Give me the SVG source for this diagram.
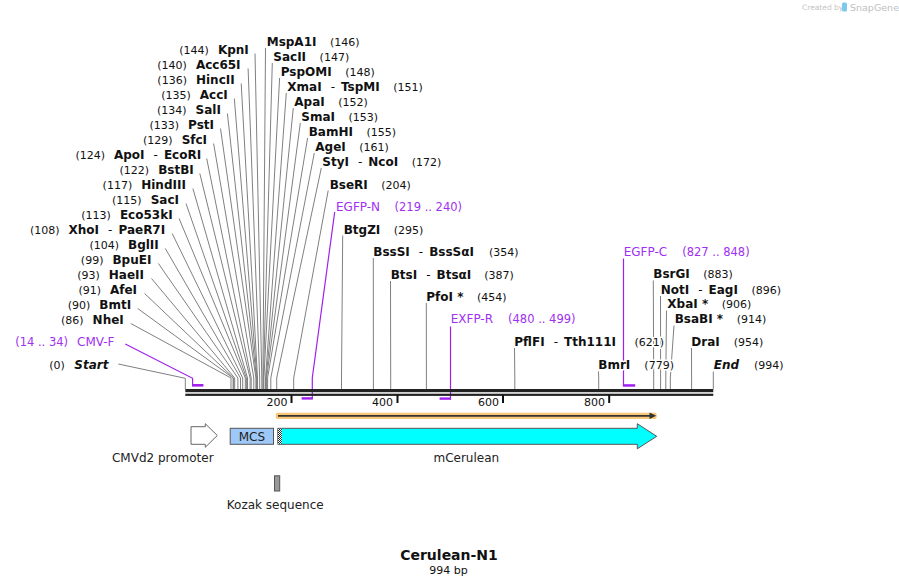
<svg xmlns="http://www.w3.org/2000/svg" width="899" height="586" viewBox="0 0 899 586">
<defs>
<style>
text{font-family:"DejaVu Sans",Verdana,sans-serif;fill:#111}
.lbl{paint-order:stroke;stroke:#fff;stroke-width:3px;stroke-linejoin:round}
.en{font-weight:bold;font-size:12px}
.pos{font-size:11px}
.dash{font-size:12px}
.it{font-weight:bold;font-style:italic;font-size:12px}
.pr{fill:#a030f0;font-size:12px}
.prp{fill:#a030f0;font-size:11.5px}
.cut{fill:none;stroke:#808080;stroke-width:1}
.pl{fill:none;stroke:#a020f0;stroke-width:1.2}
.pb{fill:#a020f0}
.tick{fill:#111}
.tl{font-size:11px}
.fl{font-size:12px;fill:#222}
</style>
<pattern id="hatch" width="2" height="2" patternUnits="userSpaceOnUse">
<rect width="2" height="2" fill="#fff"/>
<rect width="1" height="1" fill="#222"/>
<rect x="1" y="1" width="1" height="1" fill="#222"/>
</pattern>
</defs>
<rect width="899" height="586" fill="#fff"/>

<g id="watermark">
<text x="802" y="10" style="font-size:7.5px;fill:#c4c4c4">Created by</text>
<rect x="842" y="2.5" width="5" height="9" rx="1.5" fill="#7ec8ec"/>
<text x="850" y="10.5" style="font-size:9.5px;fill:#c0c0c0">SnapGene</text>
</g>

<g id="connectors">
<path class="cut" d="M255 53.5L261.8 378V389"/>
<path class="cut" d="M248.1 68.5L259.7 378V389"/>
<path class="cut" d="M241.2 83.5L257.5 378V389"/>
<path class="cut" d="M234.3 98.5L257 378V389"/>
<path class="cut" d="M227.4 113.5L256.5 378V389"/>
<path class="cut" d="M220.5 128.5L255.9 378V389"/>
<path class="cut" d="M213.6 143.5L253.8 378V389"/>
<path class="cut" d="M206.7 158.5L251.2 378V389"/>
<path class="cut" d="M199.8 173.5L250.1 378V389"/>
<path class="cut" d="M192.9 188.5L247.5 378V389"/>
<path class="cut" d="M186 203.5L246.4 378V389"/>
<path class="cut" d="M179.1 218.5L245.3 378V389"/>
<path class="cut" d="M172.2 233.5L242.7 378V389"/>
<path class="cut" d="M165.3 248.5L240.5 378V389"/>
<path class="cut" d="M158.4 263.5L237.9 378V389"/>
<path class="cut" d="M151.5 278.5L234.7 378V389"/>
<path class="cut" d="M144.6 293.5L233.6 378V389"/>
<path class="cut" d="M137.7 308.5L233.1 378V389"/>
<path class="cut" d="M130.8 323.5L231 378V389"/>
<path class="cut" d="M118.3 364L185.3 378.3V389"/>
<path class="cut" d="M265.5 48L262.9 378V389"/>
<path class="cut" d="M272.3 63L263.4 378V389"/>
<path class="cut" d="M279.6 78L263.9 378V389"/>
<path class="cut" d="M286.3 93L265.5 378V389"/>
<path class="cut" d="M293.3 108L266 378V389"/>
<path class="cut" d="M300.3 123L266.6 378V389"/>
<path class="cut" d="M307.6 138L267.6 378V389"/>
<path class="cut" d="M314.3 153L270.8 378V389"/>
<path class="cut" d="M321.3 168L276.7 378V389"/>
<path class="cut" d="M328.2 190.5L293.7 378V389"/>
<path class="cut" d="M342.7 235.5L341.5 378V389"/>
<path class="cut" d="M373.3 258L373.4 378V389"/>
<path class="cut" d="M390.5 281L390.7 378V389"/>
<path class="cut" d="M426.3 303L426.4 378V389"/>
<path class="cut" d="M514.5 348L514.8 378V389"/>
<path class="cut" d="M598.5 371.5L598.7 378V389"/>
<path class="cut" d="M653.3 280.5L653.7 378V389"/>
<path class="cut" d="M660.5 296L660.6 378V389"/>
<path class="cut" d="M666.5 310.5L665.8 378V389"/>
<path class="cut" d="M674 325.5L670.3 378V389"/>
<path class="cut" d="M691.5 348L691.6 378V389"/>
<path class="cut" d="M713.3 371.5V389"/>
<path class="pl" d="M125.3 344L192.6 378.3V385"/>
<rect class="pb" x="192" y="384" width="11.4" height="2.6"/>
<path class="pl" d="M334.7 212L312.3 377.7V398.5"/>
<rect class="pb" x="301.6" y="397.2" width="11.3" height="2.4"/>
<path class="pl" d="M450.5 326.5V399.5"/>
<rect class="pb" x="439.6" y="397.4" width="11.4" height="2.4"/>
<path class="pl" d="M623.5 258.5V386"/>
<rect class="pb" x="622.9" y="384.2" width="12.3" height="2.5"/>
</g>

<g id="track">
<rect x="185.3" y="389" width="528" height="3.2" fill="#222"/>
<rect x="185.3" y="393.7" width="528" height="2.2" fill="#222"/>
<rect class="tick" x="290.5" y="395" width="2" height="8"/>
<rect class="tick" x="396.5" y="395" width="2" height="8"/>
<rect class="tick" x="502" y="395" width="2" height="8"/>
<rect class="tick" x="608.2" y="395" width="2" height="8"/>
<text class="tl" x="287.5" y="405.5" text-anchor="end">200</text>
<text class="tl" x="393" y="405.5" text-anchor="end">400</text>
<text class="tl" x="499" y="405.5" text-anchor="end">600</text>
<text class="tl" x="605" y="405.5" text-anchor="end">800</text>
</g>

<g id="labels-left">
<text class="lbl" x="248.8" y="54" text-anchor="end"><tspan class="pos">(144)</tspan><tspan class="en" dx="9">KpnI</tspan></text>
<text class="lbl" x="240.6" y="69" text-anchor="end"><tspan class="pos">(140)</tspan><tspan class="en" dx="9">Acc65I</tspan></text>
<text class="lbl" x="234.7" y="84" text-anchor="end"><tspan class="pos">(136)</tspan><tspan class="en" dx="9">HincII</tspan></text>
<text class="lbl" x="227.8" y="99" text-anchor="end"><tspan class="pos">(135)</tspan><tspan class="en" dx="9">AccI</tspan></text>
<text class="lbl" x="220.9" y="114" text-anchor="end"><tspan class="pos">(134)</tspan><tspan class="en" dx="9">SalI</tspan></text>
<text class="lbl" x="214" y="129" text-anchor="end"><tspan class="pos">(133)</tspan><tspan class="en" dx="9">PstI</tspan></text>
<text class="lbl" x="207.1" y="144" text-anchor="end"><tspan class="pos">(129)</tspan><tspan class="en" dx="9">SfcI</tspan></text>
<text class="lbl" x="201.2" y="159" text-anchor="end"><tspan class="pos">(124)</tspan><tspan class="en" dx="9">ApoI</tspan><tspan class="dash" dx="9">-</tspan><tspan class="en" dx="6">EcoRI</tspan></text>
<text class="lbl" x="193.8" y="174" text-anchor="end"><tspan class="pos">(122)</tspan><tspan class="en" dx="9">BstBI</tspan></text>
<text class="lbl" x="185.9" y="189" text-anchor="end"><tspan class="pos">(117)</tspan><tspan class="en" dx="9">HindIII</tspan></text>
<text class="lbl" x="179" y="204" text-anchor="end"><tspan class="pos">(115)</tspan><tspan class="en" dx="9">SacI</tspan></text>
<text class="lbl" x="172.6" y="219" text-anchor="end"><tspan class="pos">(113)</tspan><tspan class="en" dx="9">Eco53kI</tspan></text>
<text class="lbl" x="165.2" y="234" text-anchor="end"><tspan class="pos">(108)</tspan><tspan class="en" dx="9">XhoI</tspan><tspan class="dash" dx="9">-</tspan><tspan class="en" dx="6">PaeR7I</tspan></text>
<text class="lbl" x="158.8" y="249" text-anchor="end"><tspan class="pos">(104)</tspan><tspan class="en" dx="9">BglII</tspan></text>
<text class="lbl" x="151.4" y="264" text-anchor="end"><tspan class="pos">(99)</tspan><tspan class="en" dx="9">BpuEI</tspan></text>
<text class="lbl" x="144" y="279" text-anchor="end"><tspan class="pos">(93)</tspan><tspan class="en" dx="9">HaeII</tspan></text>
<text class="lbl" x="137.1" y="294" text-anchor="end"><tspan class="pos">(91)</tspan><tspan class="en" dx="9">AfeI</tspan></text>
<text class="lbl" x="131.2" y="309" text-anchor="end"><tspan class="pos">(90)</tspan><tspan class="en" dx="9">BmtI</tspan></text>
<text class="lbl" x="123.8" y="324" text-anchor="end"><tspan class="pos">(86)</tspan><tspan class="en" dx="9">NheI</tspan></text>
<text class="lbl" x="114.5" y="346" text-anchor="end"><tspan class="prp">(14 .. 34)</tspan><tspan class="pr" dx="9">CMV-F</tspan></text>
<text class="lbl" x="108.5" y="368.5" text-anchor="end"><tspan class="pos">(0)</tspan><tspan class="it" dx="9.5">Start</tspan></text>
</g>

<g id="labels-right">
<text class="lbl" x="266.7" y="46"><tspan class="en">MspA1I</tspan><tspan class="pos" dx="13.5">(146)</tspan></text>
<text class="lbl" x="273.3" y="61"><tspan class="en">SacII</tspan><tspan class="pos" dx="13.5">(147)</tspan></text>
<text class="lbl" x="280.7" y="76"><tspan class="en">PspOMI</tspan><tspan class="pos" dx="13.5">(148)</tspan></text>
<text class="lbl" x="287.3" y="91"><tspan class="en">XmaI</tspan><tspan class="dash" dx="9">-</tspan><tspan class="en" dx="6">TspMI</tspan><tspan class="pos" dx="13.5">(151)</tspan></text>
<text class="lbl" x="294.3" y="106"><tspan class="en">ApaI</tspan><tspan class="pos" dx="13.5">(152)</tspan></text>
<text class="lbl" x="301.3" y="121"><tspan class="en">SmaI</tspan><tspan class="pos" dx="13.5">(153)</tspan></text>
<text class="lbl" x="308.7" y="136"><tspan class="en">BamHI</tspan><tspan class="pos" dx="13.5">(155)</tspan></text>
<text class="lbl" x="315.3" y="151"><tspan class="en">AgeI</tspan><tspan class="pos" dx="13.5">(161)</tspan></text>
<text class="lbl" x="322.3" y="166"><tspan class="en">StyI</tspan><tspan class="dash" dx="9">-</tspan><tspan class="en" dx="6">NcoI</tspan><tspan class="pos" dx="13.5">(172)</tspan></text>
<text class="lbl" x="329.7" y="188.5"><tspan class="en">BseRI</tspan><tspan class="pos" dx="13.5">(204)</tspan></text>
<text class="lbl" x="336" y="210.7"><tspan class="pr">EGFP-N</tspan><tspan class="prp" dx="14.5">(219 .. 240)</tspan></text>
<text class="lbl" x="343.7" y="233.5"><tspan class="en">BtgZI</tspan><tspan class="pos" dx="13.5">(295)</tspan></text>
<text class="lbl" x="373.3" y="256"><tspan class="en">BssSI</tspan><tspan class="dash" dx="9">-</tspan><tspan class="en" dx="6">BssSαI</tspan><tspan class="pos" dx="15">(354)</tspan></text>
<text class="lbl" x="390.7" y="278.7"><tspan class="en">BtsI</tspan><tspan class="dash" dx="9">-</tspan><tspan class="en" dx="6">BtsαI</tspan><tspan class="pos" dx="13">(387)</tspan></text>
<text class="lbl" x="426.3" y="301"><tspan class="en">PfoI *</tspan><tspan class="pos" dx="13.5">(454)</tspan></text>
<text class="lbl" x="450.7" y="323.3"><tspan class="pr">EXFP-R</tspan><tspan class="prp" dx="15">(480 .. 499)</tspan></text>
<text class="lbl" x="514.3" y="346"><tspan class="en">PflFI</tspan><tspan class="dash" dx="9">-</tspan><tspan class="en" dx="6">Tth111I</tspan><tspan class="pos" dx="18.5">(621)</tspan></text>
<text class="lbl" x="598.3" y="369.3"><tspan class="en">BmrI</tspan><tspan class="pos" dx="14">(779)</tspan></text>
<text class="lbl" x="623.7" y="256"><tspan class="pr">EGFP-C</tspan><tspan class="prp" dx="15">(827 .. 848)</tspan></text>
<text class="lbl" x="653.3" y="278.3"><tspan class="en">BsrGI</tspan><tspan class="pos" dx="13.5">(883)</tspan></text>
<text class="lbl" x="660.7" y="293.5"><tspan class="en">NotI</tspan><tspan class="dash" dx="9">-</tspan><tspan class="en" dx="6">EagI</tspan><tspan class="pos" dx="13.5">(896)</tspan></text>
<text class="lbl" x="667.3" y="308.3"><tspan class="en">XbaI *</tspan><tspan class="pos" dx="13.5">(906)</tspan></text>
<text class="lbl" x="674.7" y="323.3"><tspan class="en">BsaBI *</tspan><tspan class="pos" dx="13.5">(914)</tspan></text>
<text class="lbl" x="691.3" y="346"><tspan class="en">DraI</tspan><tspan class="pos" dx="14">(954)</tspan></text>
<text class="lbl" x="713.7" y="369.3"><tspan class="it">End</tspan><tspan class="pos" dx="15">(994)</tspan></text>
</g>

<g id="orf">
<rect x="275.7" y="412.7" width="381" height="6.3" rx="2" fill="#f8c878"/>
<line x1="278" y1="415.8" x2="651" y2="415.8" stroke="#333" stroke-width="1.8"/>
<polygon points="649.5,412.6 656.2,415.8 649.5,419" fill="#333"/>
</g>

<g id="cmvd2">
<polygon points="191,426.7 205.3,426.7 205.3,423.7 217.3,435.5 205.3,447.3 205.3,444.3 191,444.3" fill="#fff" stroke="#666" stroke-width="1"/>
<text class="fl" x="162.8" y="461.5" text-anchor="middle">CMVd2 promoter</text>
</g>

<g id="mcs">
<rect x="230.2" y="428.3" width="43.3" height="16" fill="#9ec8f8" stroke="#555" stroke-width="1"/>
<text class="fl" x="251.9" y="441" text-anchor="middle">MCS</text>
</g>

<g id="mcerulean">
<polygon points="277.8,428.3 637.3,428.3 637.3,423.7 656.7,436.3 637.3,448.8 637.3,444.3 277.8,444.3" fill="#00ffff" stroke="#555" stroke-width="1"/>
<rect x="278" y="428.8" width="3.8" height="15" fill="url(#hatch)"/>
<text class="fl" x="466.3" y="461.5" text-anchor="middle">mCerulean</text>
</g>

<g id="kozak">
<rect x="274.5" y="475.8" width="5.2" height="15.2" fill="#999" stroke="#555" stroke-width="1"/>
<text class="fl" x="275.2" y="509" text-anchor="middle">Kozak sequence</text>
</g>

<g id="title">
<text x="449" y="560" text-anchor="middle" style="font-weight:bold;font-size:14px">Cerulean-N1</text>
<text x="448.5" y="574" text-anchor="middle" style="font-size:11px">994 bp</text>
</g>
</svg>
